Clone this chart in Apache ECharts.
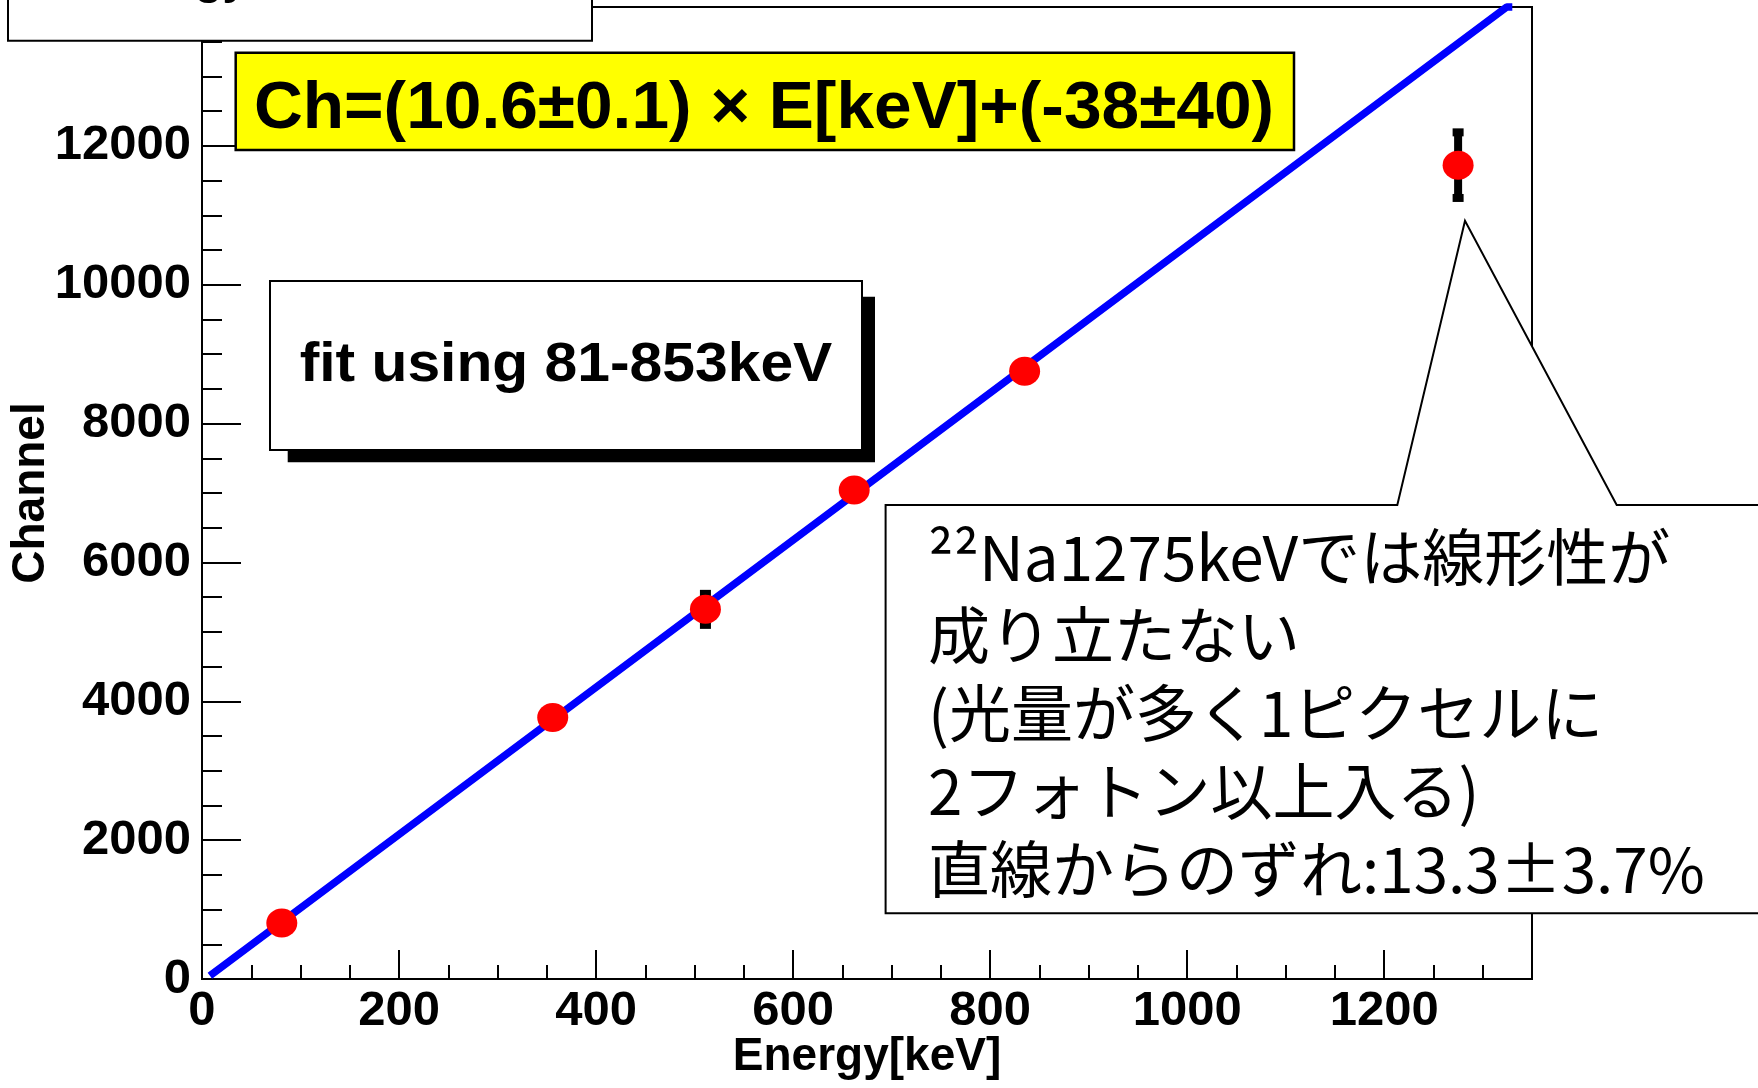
<!DOCTYPE html>
<html>
<head>
<meta charset="utf-8">
<script src="https://cdn.jsdelivr.net/npm/echarts@6/dist/echarts.min.js"></script>
<style>
  html, body { margin: 0; padding: 0; background: #ffffff; }
  #chart { width: 1758px; height: 1088px; }
</style>
</head>
<body>
<div id="chart"></div>
<script>
// Calibration lines: gamma energy [keV], fitted peak channel and its error
const energies = [81, 356, 511, 662, 835, 1275];
const channels = [805, 3765, 5324, 7042, 8754, 11722];
const channelErrors = [110, 110, 281, 110, 110, 530];

// Linear fit Ch = p0 * E + p1, drawn over this energy span
const fitParams = [10.6, -38];
const fitEnergyRange = [8, 1330];

// Axis ranges: [min, max, major step, minor step]
const energyAxis = [0, 1350, 200, 50];
const channelAxis = [0, 14000, 2000, 500];

// Annotation texts
const titleText = 'Energy';
const fitText = 'Ch=(10.6\u00b10.1) \u00d7 E[keV]+(-38\u00b140)';
const rangeText = 'fit using 81-853keV';
const noteLines = [
  '\u00b2\u00b2Na1275keVでは線形性が',
  '成り立たない',
  '(光量が多く1ピクセルに',
  '2フォトン以上入る)',
  '直線からのずれ:13.3\u00b13.7%'
];

const LATIN = '"Liberation Sans", Arial, Helvetica, sans-serif';
const CJK = '"Noto Sans CJK JP", "Noto Sans", sans-serif';

// Fit line, flattened where it leaves the frame at the top
const [p0, p1] = fitParams;
const yTop = channelAxis[1];
const fitLine = [[fitEnergyRange[0], p0 * fitEnergyRange[0] + p1]];
const eTop = (yTop - p1) / p0;
if (eTop < fitEnergyRange[1]) {
  fitLine.push([eTop, yTop], [fitEnergyRange[1], yTop]);
} else {
  fitLine.push([fitEnergyRange[1], p0 * fitEnergyRange[1] + p1]);
}

const points = energies.map((e, i) => [e, channels[i]]);
const errorBars = energies.map((e, i) => [e, channels[i] - channelErrors[i], channels[i] + channelErrors[i]]);

const chart = echarts.init(document.getElementById('chart'), null, { renderer: 'canvas' });

const black = '#000000';
const plainNumber = v => String(v);

chart.setOption({
  animation: false,
  backgroundColor: '#ffffff',
  grid: {
    left: 202, top: 7, width: 1330, height: 972,
    containLabel: false,
    outerBoundsMode: 'none',
    show: true, borderColor: black, borderWidth: 2, backgroundColor: 'transparent'
  },
  xAxis: [
    {
      type: 'value',
      min: energyAxis[0], max: energyAxis[1], interval: energyAxis[2],
      position: 'bottom',
      axisLine: { onZero: false, lineStyle: { color: black, width: 2 } },
      axisTick: { inside: true, length: 29, lineStyle: { color: black, width: 2 } },
      axisLabel: {
        color: black, fontSize: 49, fontWeight: 'bold', fontFamily: LATIN,
        margin: 8, showMaxLabel: false, hideOverlap: false, formatter: plainNumber
      },
      splitLine: { show: false },
      name: 'Energy[keV]',
      nameLocation: 'middle',
      nameGap: 55,
      nameMoveOverlap: false,
      nameTextStyle: { color: black, fontSize: 46, fontWeight: 'bold', fontFamily: LATIN }
    },
    {
      type: 'value',
      min: energyAxis[0], max: energyAxis[1], interval: energyAxis[3],
      position: 'bottom',
      axisLine: { show: false },
      axisTick: { inside: true, length: 14, lineStyle: { color: black, width: 2 } },
      axisLabel: { show: false },
      splitLine: { show: false }
    }
  ],
  yAxis: {
    type: 'value',
    min: channelAxis[0], max: channelAxis[1], interval: channelAxis[2],
    axisLine: { show: true, onZero: false, lineStyle: { color: black, width: 2 } },
    axisTick: { show: true, inside: true, length: 39, lineStyle: { color: black, width: 2 } },
    minorTick: { show: true, splitNumber: channelAxis[2] / channelAxis[3], length: 20, lineStyle: { color: black, width: 2 } },
    axisLabel: {
      color: black, fontSize: 49, fontWeight: 'bold', fontFamily: LATIN,
      margin: 11, padding: [10, 0, 0, 0],
      showMaxLabel: false, hideOverlap: false, formatter: plainNumber
    },
    splitLine: { show: false },
    name: 'Channel',
    nameLocation: 'middle',
    nameGap: 148,
    nameRotate: 90,
    nameMoveOverlap: false,
    nameTextStyle: { color: black, fontSize: 46, fontWeight: 'bold', fontFamily: LATIN }
  },
  series: [
    {
      type: 'custom',
      name: 'errors',
      xAxisIndex: 0, yAxisIndex: 0,
      z: 2,
      data: errorBars,
      renderItem(params, api) {
        const lo = api.coord([api.value(0), api.value(1)]);
        const hi = api.coord([api.value(0), api.value(2)]);
        return {
          type: 'group',
          children: [
            { type: 'line', shape: { x1: lo[0], y1: lo[1] - 4, x2: hi[0], y2: hi[1] + 4 }, style: { stroke: black, lineWidth: 8 } },
            { type: 'rect', shape: { x: hi[0] - 5.5, y: hi[1], width: 11, height: 8 }, style: { fill: black } },
            { type: 'rect', shape: { x: lo[0] - 5.5, y: lo[1] - 8, width: 11, height: 8 }, style: { fill: black } }
          ]
        };
      }
    },
    {
      type: 'line',
      name: 'fit',
      xAxisIndex: 0, yAxisIndex: 0,
      z: 3,
      data: fitLine,
      showSymbol: false,
      clip: false,
      lineStyle: { color: '#0000ff', width: 7.5 }
    },
    {
      type: 'scatter',
      name: 'peaks',
      xAxisIndex: 0, yAxisIndex: 0,
      z: 4,
      data: points,
      symbol: 'circle',
      symbolSize: [31, 29],
      itemStyle: { color: '#ff0000', opacity: 1 }
    }
  ],
  graphic: [
    // title pave at the top left (its text runs off the top edge)
    {
      type: 'rect', z: 100,
      shape: { x: 8, y: -4, width: 584, height: 44.7 },
      style: { fill: '#ffffff', stroke: black, lineWidth: 2 }
    },
    {
      type: 'text', z: 101, x: 95, y: 4,
      style: { text: titleText, fill: black, font: 'bold 45px ' + LATIN, verticalAlign: 'bottom', align: 'left' }
    },
    // fit formula box
    {
      type: 'rect', z: 100,
      shape: { x: 235.7, y: 52.7, width: 1058.3, height: 97.3 },
      style: { fill: '#ffff00', stroke: black, lineWidth: 2.5 }
    },
    {
      type: 'text', z: 101, x: 764, y: 110, scaleX: 1.01,
      style: { text: fitText, fill: black, font: 'bold 67px ' + LATIN, align: 'center', verticalAlign: 'middle' }
    },
    // fit range pave with shadow
    {
      type: 'rect', z: 100,
      shape: { x: 287.7, y: 296.7, width: 587.3, height: 165.6 },
      style: { fill: black }
    },
    {
      type: 'rect', z: 101,
      shape: { x: 270, y: 281, width: 592, height: 169 },
      style: { fill: '#ffffff', stroke: black, lineWidth: 2 }
    },
    {
      type: 'text', z: 102, x: 566, y: 366, scaleX: 1.05,
      style: { text: rangeText, fill: black, font: 'bold 56px ' + LATIN, align: 'center', verticalAlign: 'middle' }
    },
    // callout for the 1275 keV point
    {
      type: 'polygon', z: 100,
      shape: {
        points: [[885.6, 505], [1397.3, 505], [1465, 220.7], [1616.7, 505], [1770, 505], [1770, 913.3], [885.6, 913.3]]
      },
      style: { fill: '#ffffff', stroke: black, lineWidth: 2 }
    },
    {
      type: 'text', z: 101, x: 928, y: 518,
      style: {
        text: noteLines.join('\n'), fill: black, font: '62px ' + CJK,
        lineHeight: 78, align: 'left', verticalAlign: 'top'
      }
    }
  ]
});
</script>
</body>
</html>
